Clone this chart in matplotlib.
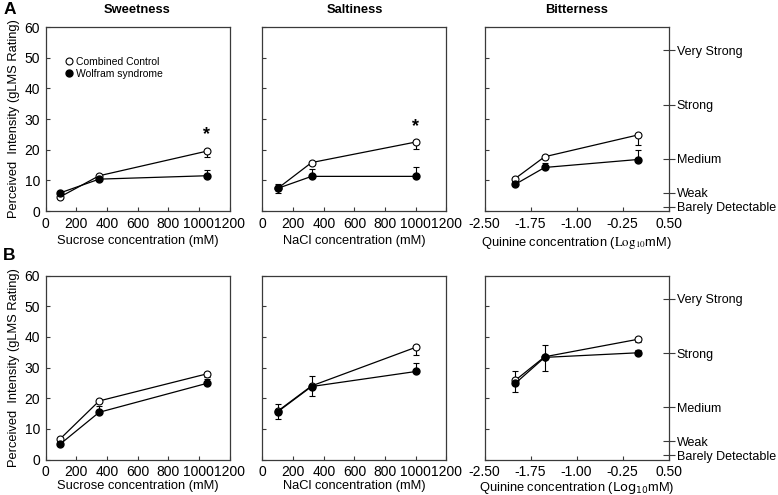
"""
Taste intensity ratings (gLMS) for Wolfram syndrome vs combined controls.
Row A and row B, three tastants each.
"""

import matplotlib.pyplot as plt

plt.rcParams["font.family"] = ["Liberation Sans", "DejaVu Sans"]

# x values
SUCROSE_MM = [95, 350, 1050]
NACL_MM = [100, 320, 1000]
QUININE_LOG = [-2.0, -1.52, 0.0]

# row A
A_SWEET_CTRL = [4.6, 11.5, 19.5]
A_SWEET_CTRL_ERR = [0.5, 0.6, 1.8]
A_SWEET_WS = [5.9, 10.4, 11.5]
A_SWEET_WS_ERR = [0.6, 0.6, 2.0]

A_SALT_CTRL = [7.4, 15.8, 22.5]
A_SALT_CTRL_ERR = [1.4, 0.8, 2.3]
A_SALT_WS = [7.4, 11.3, 11.3]
A_SALT_WS_ERR = [1.4, 2.5, 3.0]

A_BIT_CTRL = [10.6, 17.7, 24.8]
A_BIT_CTRL_ERR = [0.8, 0.8, 3.2]
A_BIT_WS = [8.7, 14.2, 16.8]
A_BIT_WS_ERR = [0.8, 1.5, 3.0]

# row B
B_SWEET_CTRL = [6.7, 19.1, 27.9]
B_SWEET_CTRL_ERR = [0.6, 0.8, 1.0]
B_SWEET_WS = [5.0, 15.4, 24.8]
B_SWEET_WS_ERR = [0.6, 2.0, 1.6]

B_SALT_CTRL = [15.8, 24.0, 36.6]
B_SALT_CTRL_ERR = [2.6, 3.3, 2.5]
B_SALT_WS = [15.6, 23.8, 28.7]
B_SALT_WS_ERR = [2.5, 3.4, 2.7]

B_BIT_CTRL = [25.8, 33.5, 39.2]
B_BIT_CTRL_ERR = [3.8, 4.8, 1.0]
B_BIT_WS = [24.8, 33.3, 34.8]
B_BIT_WS_ERR = [4.1, 4.1, 1.0]

# significance markers: (column, x, y)
A_STARS = [(0, 1050, 24.8), (1, 1000, 27.5)]

GLMS_TICKS = [1.4, 6, 17, 34.7, 52.5]
GLMS_LABELS = ["Barely Detectable", "Weak", "Medium", "Strong", "Very Strong"]

TITLES = ["Sweetness", "Saltiness", "Bitterness"]
COL_LEFT = [0.0585, 0.3374, 0.6228]
ROW_BOTTOM = [0.5737, 0.0717]
AX_W, AX_H = 0.2365, 0.3717
FRAME = "#3a3a3a"
TICK_FS = 10
LABEL_FS = 9.3


def style_axes(ax, col):
    for sp in ax.spines.values():
        sp.set_color(FRAME)
        sp.set_linewidth(0.9)
    ax.set_ylim(0, 60)
    ax.set_yticks(range(0, 61, 10))
    ax.tick_params(direction="in", length=3, width=0.8, color=FRAME,
                   labelsize=TICK_FS, pad=4)
    if col < 2:
        ax.set_xlim(0, 1200)
        ax.set_xticks(range(0, 1201, 200))
    else:
        ax.set_xlim(-2.5, 0.5)
        ax.set_xticks([-2.5, -1.75, -1.0, -0.25, 0.5])
        ax.set_xticklabels(["-2.50", "-1.75", "-1.00", "-0.25", "0.50"])
    if col == 0:
        ax.set_ylabel("Perceived  Intensity (gLMS Rating)", fontsize=LABEL_FS, labelpad=3)
    else:
        ax.tick_params(axis="y", labelleft=False)


def draw_series(ax, x, ctrl, ctrl_err, ws, ws_err):
    zeros = [0] * len(x)
    ax.errorbar(x, ctrl, yerr=[ctrl_err, zeros], fmt="none", ecolor="black",
                elinewidth=0.8, capsize=2.5, capthick=0.8, zorder=2)
    ax.errorbar(x, ws, yerr=[zeros, ws_err], fmt="none", ecolor="black",
                elinewidth=0.8, capsize=2.5, capthick=0.8, zorder=2)
    ax.plot(x, ctrl, "-o", color="black", lw=0.9, ms=5, mfc="white", mec="black",
            mew=0.8, label="Combined Control", zorder=3)
    ax.plot(x, ws, "-o", color="black", lw=0.9, ms=5, mfc="black", mec="black",
            label="Wolfram syndrome", zorder=4)


def add_glms_axis(ax):
    rax = ax.twinx()
    rax.set_ylim(0, 60)
    rax.set_yticks(GLMS_TICKS)
    rax.set_yticklabels(GLMS_LABELS)
    rax.tick_params(axis="y", direction="inout", length=8, width=0.8, color=FRAME,
                    labelsize=9, pad=2)
    for sp in rax.spines.values():
        sp.set_visible(False)


def main():
    fig = plt.figure(figsize=(7.78, 4.95), dpi=100)

    rows = [
        [
            (SUCROSE_MM, A_SWEET_CTRL, A_SWEET_CTRL_ERR, A_SWEET_WS, A_SWEET_WS_ERR),
            (NACL_MM, A_SALT_CTRL, A_SALT_CTRL_ERR, A_SALT_WS, A_SALT_WS_ERR),
            (QUININE_LOG, A_BIT_CTRL, A_BIT_CTRL_ERR, A_BIT_WS, A_BIT_WS_ERR),
        ],
        [
            (SUCROSE_MM, B_SWEET_CTRL, B_SWEET_CTRL_ERR, B_SWEET_WS, B_SWEET_WS_ERR),
            (NACL_MM, B_SALT_CTRL, B_SALT_CTRL_ERR, B_SALT_WS, B_SALT_WS_ERR),
            (QUININE_LOG, B_BIT_CTRL, B_BIT_CTRL_ERR, B_BIT_WS, B_BIT_WS_ERR),
        ],
    ]

    for r, row in enumerate(rows):
        for c, series in enumerate(row):
            ax = fig.add_axes([COL_LEFT[c], ROW_BOTTOM[r], AX_W, AX_H])
            draw_series(ax, *series)
            style_axes(ax, c)

            lp = 3 if r == 0 else 1
            if c == 0:
                ax.set_xlabel("Sucrose concentration (mM)", fontsize=LABEL_FS, labelpad=lp)
            elif c == 1:
                ax.set_xlabel("NaCl concentration (mM)", fontsize=LABEL_FS, labelpad=lp)
            else:
                ax.set_xlabel(r"Quinine concentration ($\mathrm{Log}_{10}$mM)",
                              fontsize=LABEL_FS, labelpad=lp,
                              math_fontfamily="stix" if r == 0 else "dejavusans")
                add_glms_axis(ax)

            if r == 0:
                ax.set_title(TITLES[c], fontsize=LABEL_FS, fontweight="bold", pad=10)
                for sc, sx, sy in A_STARS:
                    if sc == c:
                        ax.text(sx, sy, "*", ha="center", va="center",
                                fontsize=13, fontweight="bold")
                if c == 0:
                    ax.legend(loc="upper left", bbox_to_anchor=(0.09, 0.86),
                              frameon=False, fontsize=7.5, handlelength=0.6,
                              handletextpad=0.3, labelspacing=0.15,
                              borderaxespad=0)
                    for h in ax.get_legend().legend_handles:
                        h.set_linestyle("none")

    fig.text(0.004, 0.995, "A", fontsize=12.5, fontweight="bold", va="top")
    fig.text(0.004, 0.5, "B", fontsize=12.5, fontweight="bold", va="top")

    fig.savefig("out.png", dpi=100)


if __name__ == "__main__":
    main()
